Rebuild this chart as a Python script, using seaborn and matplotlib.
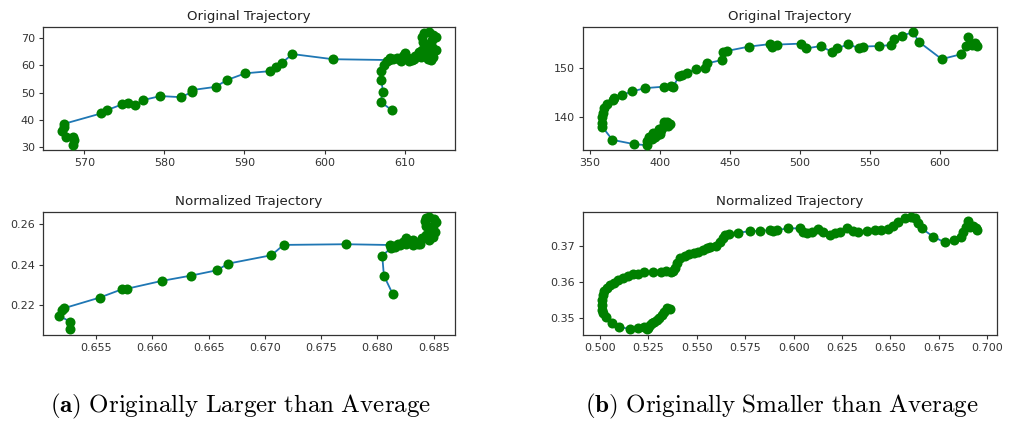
import matplotlib
matplotlib.use("Agg")
import matplotlib.pyplot as plt
from matplotlib.ticker import MultipleLocator
import seaborn as sns

# ---- trajectory data -------------------------------------------------------
# (a) originally larger than average
orig_a_x = [568.55, 568.7, 568.55, 567.7, 567.2, 567.5, 567.4, 572.1, 572.8, 574.7,
            575.5, 576.3, 577.3, 579.5, 582.05, 583.4, 583.4, 586.4, 587.8, 590.1,
            593.2, 594.0, 594.7, 596.0, 601.05, 608.0, 608.6, 609.3, 609.8, 610.0,
            610.4, 610.9, 611.3, 611.8, 612.2, 612.6, 612.9, 613.3, 613.6, 613.2,
            612.5, 612.3, 612.2, 612.4, 613.0, 613.5, 613.9, 613.4, 612.8, 613.4,
            613.95, 613.2, 612.0, 611.2, 610.5, 609.6, 609.0, 608.2, 607.8, 607.4,
            607.0, 607.1, 607.3, 607.0, 608.4]
orig_a_y = [30.5, 32.5, 33.7, 33.5, 35.9, 37.4, 38.4, 42.3, 43.5, 45.6,
            46.0, 45.3, 47.2, 48.7, 48.3, 50.1, 50.9, 52.1, 54.6, 57.1,
            57.9, 59.5, 61.0, 64.2, 62.3, 62.0, 62.3, 62.5, 63.4, 64.6,
            62.8, 62.0, 63.5, 64.8, 65.6, 64.0, 62.4, 62.0, 63.3, 64.9,
            66.6, 68.8, 70.5, 71.9, 72.2, 71.4, 70.6, 69.4, 67.6, 66.8,
            65.8, 64.5, 63.0, 62.2, 61.5, 61.8, 62.9, 62.6, 61.7, 60.1,
            57.9, 54.6, 50.3, 46.6, 43.5]

norm_a_x = [0.65271, 0.65271, 0.65172, 0.65196, 0.65210, 0.65530, 0.65730, 0.65778,
            0.66082, 0.66342, 0.66575, 0.66673, 0.67058, 0.67166, 0.67718, 0.68112,
            0.68150, 0.68180, 0.68230, 0.68250, 0.68290, 0.68320, 0.68360, 0.68400,
            0.68430, 0.68460, 0.68490, 0.68470, 0.68430, 0.68420, 0.68430, 0.68460,
            0.68500, 0.68520, 0.68490, 0.68510, 0.68470, 0.68380, 0.68320, 0.68250,
            0.68200, 0.68160, 0.68120, 0.68043, 0.68058, 0.68136]
norm_a_y = [0.20794, 0.21156, 0.21469, 0.21751, 0.21830, 0.22361, 0.22777, 0.22807,
            0.23189, 0.23452, 0.23719, 0.24047, 0.24463, 0.24974, 0.25008, 0.24970,
            0.24900, 0.25010, 0.25120, 0.25310, 0.25150, 0.25220, 0.25030, 0.25310,
            0.25470, 0.25200, 0.25350, 0.25620, 0.25910, 0.26150, 0.26300, 0.26380,
            0.26280, 0.26100, 0.25920, 0.25630, 0.25300, 0.25020, 0.24970, 0.25000,
            0.24950, 0.24880, 0.24810, 0.24444, 0.23452, 0.22544]

# (b) originally smaller than average
orig_b_x = [407.1, 404.8, 405.5, 403.0, 402.0, 401.0, 400.0, 399.0, 398.0, 396.5,
            395.0, 394.0, 392.5, 391.0, 390.5, 381.7, 366.0, 358.8, 358.5, 358.8,
            359.5, 360.0, 362.4, 366.7, 367.4, 373.1, 379.8, 389.5, 402.9, 407.6,
            409.5, 413.6, 415.5, 419.5, 425.5, 432.1, 433.4, 444.1, 445.2, 448.1,
            463.8, 478.6, 479.8, 483.4, 500.7, 504.3, 514.8, 522.6, 526.7, 534.5,
            542.4, 545.2, 556.2, 564.8, 567.1, 572.6, 580.9, 584.8, 601.2, 615.0,
            618.6, 620.2, 622.6, 625.0, 626.7]
orig_b_y = [138.5, 138.95, 138.0, 138.8, 137.8, 137.2, 136.5, 137.4, 136.2, 135.8,
            136.6, 135.3, 135.8, 135.0, 134.1, 134.3, 135.2, 137.9, 138.6, 140.0,
            140.8, 141.7, 142.6, 143.4, 143.9, 144.5, 145.2, 145.9, 146.2, 146.4,
            146.2, 148.4, 148.6, 149.1, 149.8, 150.1, 151.0, 151.7, 153.4, 153.6,
            154.5, 155.0, 154.5, 154.9, 155.1, 154.1, 154.6, 153.4, 154.1, 155.0,
            154.1, 154.5, 154.6, 154.8, 156.1, 156.75, 157.45, 155.5, 151.9, 152.9,
            154.6, 156.4, 154.8, 155.3, 154.6]

norm_b_x = [0.5361, 0.5344, 0.5330, 0.5318, 0.5306, 0.5293, 0.5279, 0.5267, 0.5258, 0.5250,
            0.5241, 0.5227, 0.5198, 0.5155, 0.5100, 0.5060, 0.5031, 0.5017, 0.5009, 0.5009,
            0.5012, 0.5014, 0.5021, 0.5034, 0.5052, 0.5072, 0.5095, 0.5120, 0.5146, 0.5172,
            0.5198, 0.5227, 0.5272, 0.5313, 0.5341, 0.5365, 0.5379, 0.5387, 0.5396, 0.5413,
            0.5439, 0.5461, 0.5485, 0.5508, 0.5534, 0.5554, 0.5568, 0.5599, 0.5620, 0.5633,
            0.5645, 0.5668, 0.5714, 0.5775, 0.5826, 0.5878, 0.5895, 0.5912, 0.5972, 0.6033,
            0.6050, 0.6067, 0.6093, 0.6127, 0.6153, 0.6188, 0.6213, 0.6239, 0.6274, 0.6308,
            0.6334, 0.6377, 0.6420, 0.6454, 0.6489, 0.6515, 0.6540, 0.6575, 0.6609, 0.6627,
            0.6644, 0.6661, 0.6721, 0.6781, 0.6828, 0.6867, 0.6876, 0.6893, 0.6902, 0.6910,
            0.6928, 0.6941, 0.6948]
norm_b_y = [0.3526, 0.3529, 0.3518, 0.3509, 0.3500, 0.3495, 0.3491, 0.3486, 0.3481, 0.3474,
            0.3470, 0.3477, 0.3472, 0.3470, 0.3477, 0.3488, 0.3505, 0.3514, 0.3523, 0.3537,
            0.3551, 0.3564, 0.3576, 0.3585, 0.3592, 0.3597, 0.3606, 0.3612, 0.3618, 0.3622,
            0.3624, 0.3627, 0.3627, 0.3629, 0.3631, 0.3629, 0.3631, 0.3638, 0.3652, 0.3666,
            0.3672, 0.3677, 0.3682, 0.3684, 0.3688, 0.3694, 0.3697, 0.3701, 0.3712, 0.3721,
            0.3730, 0.3734, 0.3737, 0.3741, 0.3742, 0.3744, 0.3742, 0.3744, 0.3749, 0.3749,
            0.3740, 0.3737, 0.3740, 0.3746, 0.3740, 0.3730, 0.3735, 0.3740, 0.3749, 0.3742,
            0.3740, 0.3742, 0.3744, 0.3744, 0.3747, 0.3756, 0.3767, 0.3777, 0.3781, 0.3777,
            0.3763, 0.3749, 0.3726, 0.3710, 0.3717, 0.3726, 0.3740, 0.3753, 0.3769, 0.3753,
            0.3756, 0.3749, 0.3744]

panel_titles = ["Original Trajectory", "Normalized Trajectory"]
captions = [r"$\mathbf{(a)}\ \mathrm{Originally\ Larger\ than\ Average}$",
            r"$\mathbf{(b)}\ \mathrm{Originally\ Smaller\ than\ Average}$"]

# ---- styling ---------------------------------------------------------------
sns.set_theme(style="ticks")
plt.rcParams["font.family"] = ["DejaVu Sans"]
plt.rcParams["mathtext.fontset"] = "cm"
plt.rcParams["axes.edgecolor"] = "#333333"
plt.rcParams["xtick.color"] = "#333333"
plt.rcParams["ytick.color"] = "#333333"

fig = plt.figure(figsize=(10.09, 4.26), dpi=100)

W, H = 1009.0, 426.0


def axes_at(x0, y0, x1, y1):
    return fig.add_axes([x0 / W, 1 - y1 / H, (x1 - x0) / W, (y1 - y0) / H])


panels = [
    # x, y, title, xlim, ylim, xstep, ystep, pixel box
    (orig_a_x, orig_a_y, panel_titles[0], (564.8, 616.3), (28.8, 74.3), 10, 10, (42.7, 26.7, 455, 150)),
    (norm_a_x, norm_a_y, panel_titles[1], (0.65025, 0.6869), (0.2051, 0.2662), 0.005, 0.02, (42.7, 211.7, 455, 335)),
    (orig_b_x, orig_b_y, panel_titles[0], (344.8, 640.5), (133.1, 158.6), 50, 10, (582.7, 26.7, 996.7, 150)),
    (norm_b_x, norm_b_y, panel_titles[1], (0.4911, 0.7049), (0.3454, 0.3795), 0.025, 0.01, (582.7, 211.7, 996.7, 335)),
]

for xs, ys, title, xlim, ylim, xstep, ystep, box in panels:
    ax = axes_at(*box)
    sns.lineplot(x=xs, y=ys, sort=False, estimator=None, ax=ax,
                 color="#1f77b4", linewidth=1.3, zorder=2)
    sns.scatterplot(x=xs, y=ys, ax=ax, color="green", s=52,
                    linewidth=0, zorder=3)
    ax.set_xlim(*xlim)
    ax.set_ylim(*ylim)
    ax.xaxis.set_major_locator(MultipleLocator(xstep))
    ax.yaxis.set_major_locator(MultipleLocator(ystep))
    ax.set_title(title, fontsize=9.6, color="#222222", pad=4.5)
    ax.tick_params(labelsize=8, length=3, width=0.8, pad=2.5)
    for sp in ax.spines.values():
        sp.set_linewidth(0.9)

fig.text(241 / W, 1 - 406 / H, captions[0], fontsize=18, ha="center", va="center", color="black")
fig.text(782 / W, 1 - 406 / H, captions[1], fontsize=18, ha="center", va="center", color="black")

fig.savefig("out.png", dpi=100, facecolor="white")
